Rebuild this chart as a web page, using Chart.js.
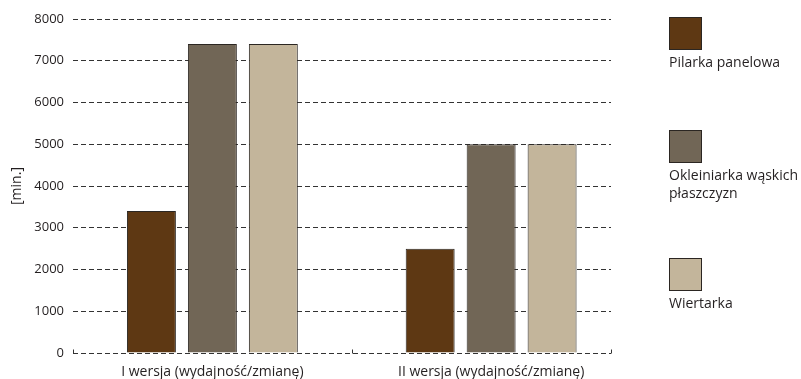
<!DOCTYPE html>
<html>
<head>
<meta charset="utf-8">
<script src="https://cdn.jsdelivr.net/npm/chart.js@4/dist/chart.umd.min.js"></script>
<style>
  html, body { margin: 0; padding: 0; background: #fff; }
  #wrap { position: relative; width: 801px; height: 379px; }
  #legend { position: absolute; left: 669px; top: 0; font-family: 'Open Sans', sans-serif; font-size: 14px; color: #231f20; }
  .item { position: absolute; left: 0; width: 140px; }
  .box { width: 33px; height: 33px; border: 1px solid #2b2622; box-sizing: border-box; }
  .lab { margin-top: 3px; line-height: 18px; white-space: nowrap; }
</style>
</head>
<body>
<div id="wrap">
  <canvas id="chart" width="801" height="379"></canvas>
  <div id="legend"></div>
</div>
<script>
const categories = ['I wersja (wydajność/zmianę)', 'II wersja (wydajność/zmianę)'];
const seriesNames = ['Pilarka panelowa', 'Okleiniarka wąskich płaszczyzn', 'Wiertarka'];
const pilarka = [3400, 2500];
const okleiniarka = [7400, 5000];
const wiertarka = [7400, 5000];
const yTicks = [0, 1000, 2000, 3000, 4000, 5000, 6000, 7000, 8000];
const colors = ['#5e3813', '#716656', '#c3b59b'];

const legendLabels = ['Pilarka panelowa', 'Okleiniarka wąskich<br>płaszczyzn', 'Wiertarka'];
const legendTops = [17, 130, 258];
const legend = document.getElementById('legend');
legendLabels.forEach(function (txt, i) {
    const d = document.createElement('div');
    d.className = 'item';
    d.style.top = legendTops[i] + 'px';
    d.innerHTML = '<div class="box" style="background:' + colors[i] + '"></div><div class="lab">' + txt + '</div>';
    legend.appendChild(d);
});

// small upward tick marks on the base line
const baseTicks = {
    id: 'baseTicks',
    afterDraw: function (chart) {
        const x = chart.scales.x, y = chart.scales.y;
        const ctx = chart.ctx;
        const yb = Math.round(y.getPixelForValue(0)) + 0.5;
        ctx.save();
        ctx.strokeStyle = '#333';
        ctx.lineWidth = 1;
        [0, 1, x.max].forEach(function (v) {
            const px = Math.round(x.getPixelForValue(v)) + 0.5;
            ctx.beginPath();
            ctx.moveTo(px, yb);
            ctx.lineTo(px, yb - 4);
            ctx.stroke();
        });
        ctx.restore();
    }
};

const series = [pilarka, okleiniarka, wiertarka];
const ctx = document.getElementById('chart').getContext('2d');
const chart = new Chart(ctx, {
    type: 'bar',
    data: {
        datasets: series.map(function (vals, i) {
            return {
                label: seriesNames[i],
                data: vals.map(function (v, j) { return { x: j + 0.5, y: v }; }),
                backgroundColor: colors[i],
                borderColor: '#2b2622',
                borderWidth: 1,
                categoryPercentage: 0.656,
                barPercentage: 0.803
            };
        })
    },
    options: {
        responsive: false,
        animation: false,
        layout: { padding: { top: 19, right: 190, left: 0, bottom: 0 } },
        plugins: { legend: { display: false }, tooltip: { enabled: false } },
        scales: {
            x: {
                type: 'linear',
                offset: false,
                min: 0,
                max: 1.93,
                afterBuildTicks: function (s) { s.ticks = [{ value: 0.5 }, { value: 1.5 }]; },
                afterFit: function (s) { s.height = 26; },
                ticks: {
                    callback: function (v) { return categories[Math.floor(v)]; },
                    color: '#231f20',
                    font: { family: 'Open Sans', size: 14 },
                    padding: 3,
                    maxRotation: 0,
                    autoSkip: false
                },
                grid: { display: false },
                border: { display: false }
            },
            y: {
                min: 0,
                max: 8000,
                afterBuildTicks: function (s) { s.ticks = yTicks.map(function (v) { return { value: v }; }); },
                afterFit: function (s) { s.width = 73; },
                ticks: {
                    callback: function (v) { return String(v); },
                    color: '#231f20',
                    font: { family: 'Open Sans', size: 13 },
                    padding: 9
                },
                grid: { color: '#333', lineWidth: 1, drawTicks: false, tickLength: 0 },
                border: { display: false, dash: [5, 3] },
                title: {
                    display: true,
                    text: '[min.]',
                    color: '#231f20',
                    font: { family: 'Open Sans', size: 14 },
                    padding: { top: 9, bottom: 0 }
                }
            }
        }
    },
    plugins: [baseTicks]
});
</script>
</body>
</html>
